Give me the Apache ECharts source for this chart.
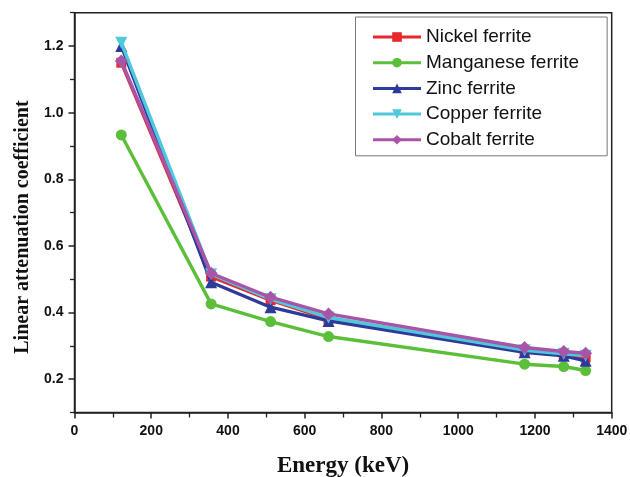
<!DOCTYPE html>
<html>
<head>
<meta charset="utf-8">
<script src="https://cdn.jsdelivr.net/npm/echarts@6/dist/echarts.min.js"></script>
<style>html,body{margin:0;padding:0;background:#fff}#c{width:630px;height:477px}</style>
</head>
<body>
<div id="c"></div>
<script>
const energies = [122, 356, 511, 662, 1173, 1275, 1332];
const nickel    = [1.150, 0.508, 0.437, 0.380, 0.285, 0.275, 0.265];
const manganese = [0.933, 0.426, 0.373, 0.328, 0.245, 0.238, 0.226];
const zinc      = [1.200, 0.491, 0.416, 0.375, 0.281, 0.270, 0.255];
const copper    = [1.210, 0.515, 0.440, 0.385, 0.287, 0.276, 0.270];
const cobalt    = [1.155, 0.518, 0.446, 0.396, 0.295, 0.283, 0.278];
const seriesNames = ['Nickel ferrite', 'Manganese ferrite', 'Zinc ferrite', 'Copper ferrite', 'Cobalt ferrite'];
const yMajorTicks = [0.2, 0.4, 0.6, 0.8, 1.0, 1.2];
const yMinorTicks = [0.1, 0.3, 0.5, 0.7, 0.9, 1.1, 1.3];

const colors = ['#e8262b', '#5bbf3a', '#2e3a9a', '#4fc8dc', '#a855a8'];
const symbols = ['rect', 'circle', 'triangle', 'triangle', 'diamond'];
const rotates = [0, 0, 0, 180, 0];
const sizes = [10, 11, 12, 12, 13];
const allData = [nickel, manganese, zinc, copper, cobalt];

const labelFont = {fontFamily: 'Liberation Sans', fontWeight: 'bold', fontSize: 14, color: '#111'};
const axisLine = {show: true, lineStyle: {color: '#222', width: 1.5}};

const chart = echarts.init(document.getElementById('c'));
chart.setOption({
  animation: false,
  grid: {left: 74.5, right: 18.3, top: 12.7, bottom: 64.5, show: true, borderColor: '#222', borderWidth: 1.5,
         outerBoundsMode: 'none', containLabel: false},
  legend: {
    orient: 'vertical', left: 355.5, top: 17,
    data: seriesNames,
    itemWidth: 48, itemHeight: 12, itemGap: 5.7,
    padding: [10, 28, 6, 16],
    borderColor: '#777', borderWidth: 1,
    lineStyle: {width: 3},
    textStyle: {fontFamily: 'Liberation Sans', fontSize: 19, color: '#111', lineHeight: 20}
  },
  xAxis: {
    type: 'value', min: 0, max: 1400, interval: 200,
    name: 'Energy (keV)', nameLocation: 'middle', nameGap: 42,
    nameTextStyle: {fontFamily: 'Liberation Serif', fontWeight: 'bold', fontSize: 23, color: '#111'},
    axisLine: axisLine,
    axisTick: {show: true, inside: false, length: 6, lineStyle: {color: '#222', width: 1.5}},
    minorTick: {show: true, splitNumber: 2, length: 5, lineStyle: {color: '#222', width: 1.3}},
    axisLabel: Object.assign({margin: 12, formatter: v => String(v)}, labelFont),
    splitLine: {show: false}
  },
  yAxis: [{
    type: 'value', min: 0.1, max: 1.3,
    name: 'Linear attenuation coefficient', nameLocation: 'middle', nameGap: 41,
    nameTextStyle: {fontFamily: 'Liberation Serif', fontWeight: 'bold', fontSize: 20, color: '#111', padding: [0, 29, 0, 0]},
    axisLine: axisLine,
    axisTick: {show: true, inside: false, length: 6, customValues: yMajorTicks, lineStyle: {color: '#222', width: 1.5}},
    axisLabel: Object.assign({margin: 11, customValues: yMajorTicks, formatter: v => v.toFixed(1)}, labelFont),
    splitLine: {show: false}
  }, {
    type: 'value', min: 0.1, max: 1.3, position: 'left',
    axisLine: {show: false},
    axisTick: {show: true, inside: false, length: 4.5, customValues: yMinorTicks, lineStyle: {color: '#222', width: 1.3}},
    axisLabel: {show: false},
    splitLine: {show: false}
  }],
  series: seriesNames.map((n, i) => ({
    name: n, type: 'line',
    data: energies.map((e, j) => [e, allData[i][j]]),
    symbol: symbols[i], symbolRotate: rotates[i], symbolSize: sizes[i],
    lineStyle: {color: colors[i], width: 3.4},
    itemStyle: {color: colors[i]},
    z: 2 + i
  }))
});
</script>
</body>
</html>
